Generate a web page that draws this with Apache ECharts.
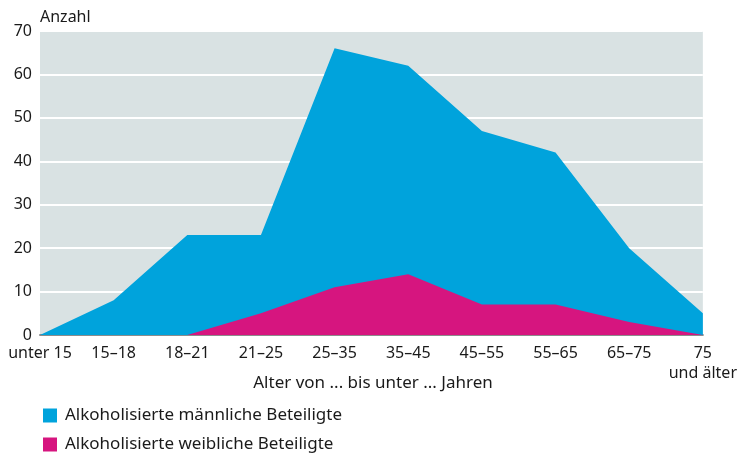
<!DOCTYPE html>
<html>
<head>
<meta charset="utf-8">
<script src="https://cdn.jsdelivr.net/npm/echarts@6/dist/echarts.min.js"></script>
<style>
  html, body { margin: 0; padding: 0; background: #fff; }
  #chart { width: 740px; height: 457px; }
</style>
</head>
<body>
<div id="chart"></div>
<script>
// Altersgruppen
const categories = ['unter 15', '15–18', '18–21', '21–25', '25–35', '35–45', '45–55', '55–65', '65–75', '75\nund älter']
// Werte
const maleValues = [0, 8, 23, 23, 66, 62, 47, 42, 20, 5]
const femaleValues = [0, 0, 0, 5, 11, 14, 7, 7, 3, 0]
const yTicks = [0, 10, 20, 30, 40, 50, 60, 70]

const MALE = 'Alkoholisierte männliche Beteiligte'
const FEMALE = 'Alkoholisierte weibliche Beteiligte'
const X_NAME = 'Alter von ... bis unter ... Jahren'
const FONT = '"Source Sans Pro", "Noto Sans", sans-serif'
const chart = echarts.init(document.getElementById('chart'))

// eine Legende pro Eintrag, untereinander
const legendItem = (name, top) => ({
  left: 38,
  top: top,
  icon: 'rect',
  itemWidth: 14,
  itemHeight: 14,
  textStyle: { fontFamily: FONT, fontSize: 17, color: '#1a1a1a', padding: [0, 0, 0, 3] },
  data: [name]
})

chart.setOption({
  animation: false,
  textStyle: { fontFamily: FONT, color: '#1a1a1a' },
  grid: {
    left: 40,
    right: 34,
    top: 31,
    bottom: 122,
    show: true,
    backgroundColor: '#d9e2e3',
    borderWidth: 0
  },
  legend: [legendItem(MALE, 402), legendItem(FEMALE, 431)],
  // Achsentitel unter den Kategorien
  graphic: [{
    type: 'text',
    x: 373,
    y: 383,
    style: {
      text: X_NAME,
      fontFamily: FONT,
      fontSize: 17,
      fill: '#1a1a1a',
      align: 'center',
      verticalAlign: 'middle'
    }
  }],
  xAxis: {
    type: 'category',
    boundaryGap: false,
    data: categories,
    axisLine: { show: true, lineStyle: { color: '#8c8c8c', width: 2 } },
    axisTick: { show: false },
    axisLabel: {
      fontFamily: FONT,
      fontSize: 16,
      color: '#1a1a1a',
      margin: 8,
      lineHeight: 20,
      interval: 0,
      verticalAlign: 'top'
    },
    splitLine: { show: false }
  },
  yAxis: {
    type: 'value',
    min: yTicks[0],
    max: yTicks[yTicks.length - 1],
    interval: 10,
    name: 'Anzahl',
    nameLocation: 'end',
    nameGap: 6,
    nameTextStyle: { fontFamily: FONT, fontSize: 16, color: '#1a1a1a', align: 'left' },
    axisLine: { show: false },
    axisTick: { show: false },
    axisLabel: { fontFamily: FONT, fontSize: 16, color: '#1a1a1a', margin: 8 },
    splitLine: { lineStyle: { color: '#ffffff', width: 2 } }
  },
  series: [
    {
      name: MALE,
      type: 'line',
      data: maleValues,
      symbol: 'none',
      lineStyle: { width: 0 },
      itemStyle: { color: '#00a3dc' },
      areaStyle: { color: '#00a3dc', opacity: 1 },
      z: 2
    },
    {
      name: FEMALE,
      type: 'line',
      data: femaleValues,
      symbol: 'none',
      lineStyle: { width: 0 },
      itemStyle: { color: '#d6157f' },
      areaStyle: { color: '#d6157f', opacity: 1 },
      z: 3
    }
  ]
})
</script>
</body>
</html>
